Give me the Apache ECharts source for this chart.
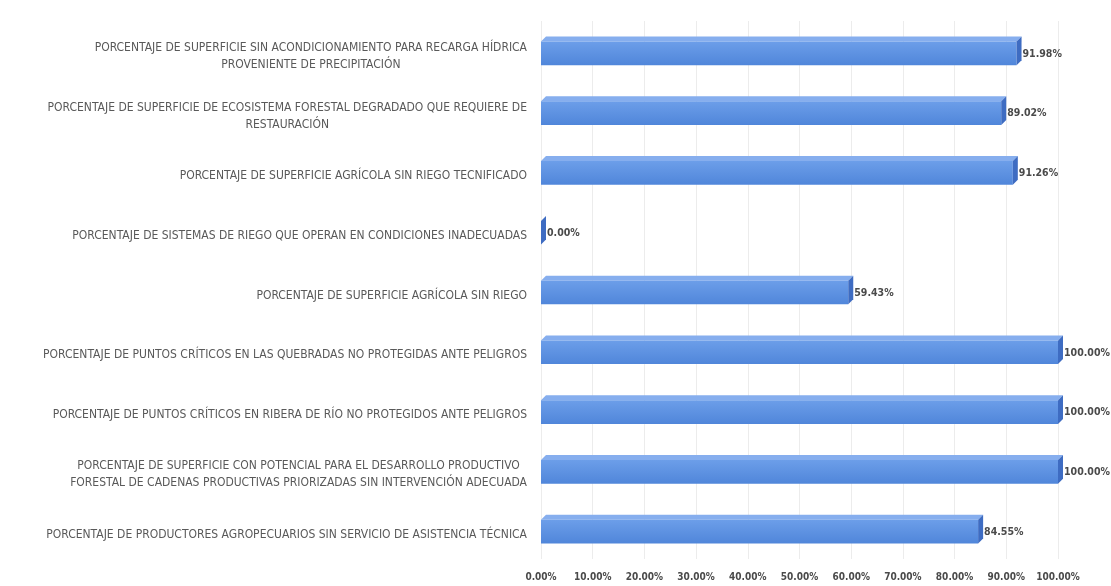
<!DOCTYPE html>
<html>
<head>
<meta charset="utf-8">
<script src="https://cdn.jsdelivr.net/npm/echarts@6/dist/echarts.min.js"></script>
<style>
html,body{margin:0;padding:0;background:#fff;}
#chart{width:1111px;height:586px;}
</style>
</head>
<body>
<div id="chart"></div>
<script>
const categories = [
  "PORCENTAJE DE SUPERFICIE SIN ACONDICIONAMIENTO PARA RECARGA HÍDRICA\nPROVENIENTE DE PRECIPITACIÓN",
  "PORCENTAJE DE SUPERFICIE DE ECOSISTEMA FORESTAL DEGRADADO QUE REQUIERE DE\nRESTAURACIÓN",
  "PORCENTAJE DE SUPERFICIE AGRÍCOLA SIN RIEGO TECNIFICADO",
  "PORCENTAJE DE SISTEMAS DE RIEGO QUE OPERAN EN CONDICIONES INADECUADAS",
  "PORCENTAJE DE SUPERFICIE AGRÍCOLA SIN RIEGO",
  "PORCENTAJE DE PUNTOS CRÍTICOS EN LAS QUEBRADAS NO PROTEGIDAS ANTE PELIGROS",
  "PORCENTAJE DE PUNTOS CRÍTICOS EN RIBERA DE RÍO NO PROTEGIDOS ANTE PELIGROS",
  "PORCENTAJE DE SUPERFICIE CON POTENCIAL PARA EL DESARROLLO PRODUCTIVO\nFORESTAL DE CADENAS PRODUCTIVAS PRIORIZADAS SIN INTERVENCIÓN ADECUADA",
  "PORCENTAJE DE PRODUCTORES AGROPECUARIOS SIN SERVICIO DE ASISTENCIA TÉCNICA"
];
const values = [91.98, 89.02, 91.26, 0.00, 59.43, 100.00, 100.00, 100.00, 84.55];
const xTicks = [0, 10, 20, 30, 40, 50, 60, 70, 80, 90, 100];

const FONT = "'Liberation Sans Narrow','DejaVu Sans Condensed','Liberation Sans',sans-serif";
const chart = echarts.init(document.getElementById('chart'));

function renderBar(params, api) {
  const idx = api.value(0);
  const val = api.value(1);
  const p0 = api.coord([0, idx]);
  const p1 = api.coord([val, idx]);
  const band = api.size([0, 1])[1];
  const h = band * 0.48;
  const d = 5;
  const x0 = p0[0], x1 = p1[0], yc = p0[1];
  const yT = yc - h / 2 + d, yB = yc + h / 2;
  return {
    type: 'group',
    children: [
      { type: 'polygon', shape: { points: [[x0, yT], [x0 + d, yT - d], [x1 + d, yT - d], [x1, yT]] },
        style: { fill: '#86AEEE' } },
      { type: 'rect', shape: { x: x0, y: yT, width: x1 - x0, height: yB - yT },
        style: { fill: new echarts.graphic.LinearGradient(0, 0, 0, 1, [
          { offset: 0, color: '#6C9EE9' }, { offset: 1, color: '#5086DA' }]) } },
      { type: 'polygon', shape: { points: [[x1, yT], [x1 + d, yT - d], [x1 + d, yB - d], [x1, yB]] },
        style: { fill: '#3E6CC2' } },
      { type: 'text', x: x1 + d + 1, y: yc + 3,
        style: { text: val.toFixed(2) + '%', fill: '#4a4a4a', font: "bold 10.5px 'Liberation Sans Narrow','DejaVu Sans Condensed',sans-serif",
          textAlign: 'left', textVerticalAlign: 'middle' } }
    ]
  };
}

const option = {
  animation: false,
  backgroundColor: '#fff',
  grid: { left: 541, right: 53, top: 21, bottom: 27, containLabel: false },
  xAxis: {
    type: 'value', min: 0, max: 100, interval: 10,
    axisLine: { show: false }, axisTick: { show: false },
    splitLine: { show: true, lineStyle: { color: '#ececec', width: 1 } },
    axisLabel: { margin: 13, color: '#4a4a4a', fontSize: 10, fontWeight: 'bold', fontFamily: FONT,
      formatter: v => v.toFixed(2) + '%' }
  },
  yAxis: {
    type: 'category', data: categories, inverse: true,
    axisLine: { show: false }, axisTick: { show: false },
    axisLabel: {
      margin: 14, color: '#595959', fontSize: 12, fontFamily: FONT, lineHeight: 17,
      padding: [11, 0, 0, 0],
      formatter: v => v.split('\n').map(s => '{c|' + s + '}').join('\n'),
      rich: { c: { align: 'center', color: '#595959', fontSize: 12, fontFamily: FONT, lineHeight: 17 } }
    }
  },
  series: [{
    type: 'custom',
    renderItem: renderBar,
    encode: { x: 1, y: 0 },
    data: values.map((v, i) => [i, v])
  }]
};
chart.setOption(option);
</script>
</body>
</html>
